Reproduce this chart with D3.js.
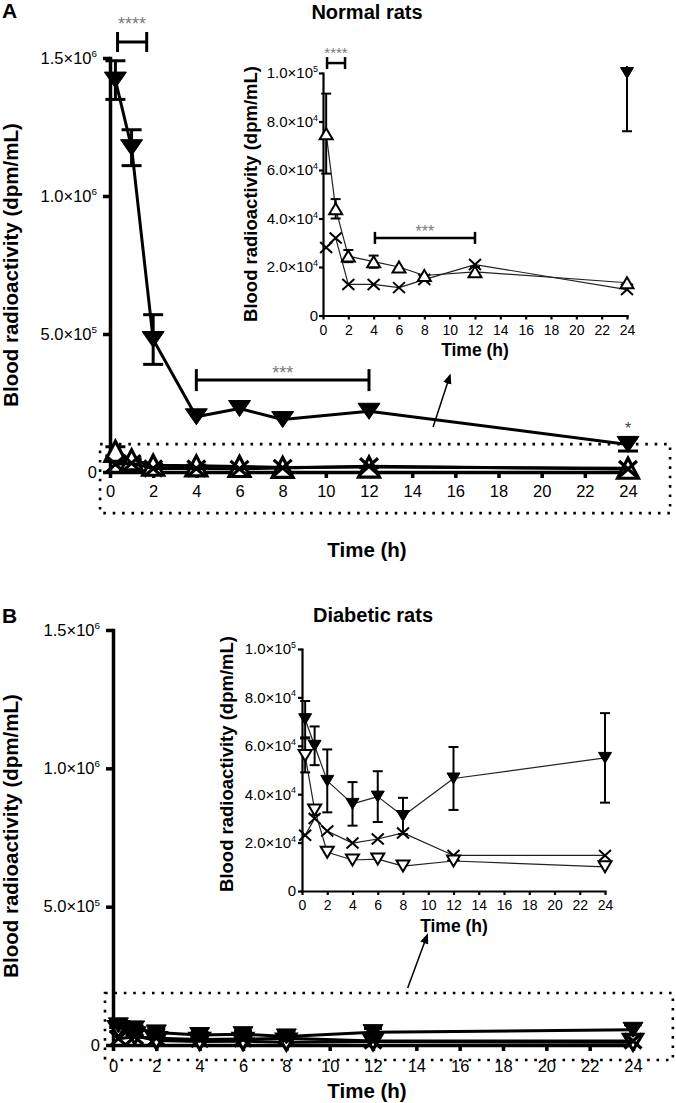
<!DOCTYPE html>
<html><head><meta charset="utf-8">
<script src="https://cdn.jsdelivr.net/npm/d3@7/dist/d3.min.js"></script>
<style>
body{margin:0;background:#fff}
svg{display:block}
</style>
</head><body>
<svg id="c" width="676" height="1103"></svg>
<script>
// ---------------- DATA ----------------
const times = [0.25, 1, 2, 4, 6, 8, 12, 24];
const xTickValues = [0, 2, 4, 6, 8, 10, 12, 14, 16, 18, 20, 22, 24];
const yTicksMain = [0, 5e5, 1e6, 1.5e6];
const yTicksInset = [0, 2e4, 4e4, 6e4, 8e4, 1e5];

// Normal rats (dpm/mL)
const normalFilledMean = [1.42e6, 1.175e6, 4.8e5, 2.0e5, 2.3e5, 1.9e5, 2.2e5, 1.0e5];
const normalFilledErr  = [7e4, 6.5e4, 9e4, 0, 0, 0, 0, 2.4e4];
const normalOpenMean   = [7.5e4, 4.4e4, 2.45e4, 2.22e4, 2.0e4, 1.65e4, 1.8e4, 1.35e4];
const normalOpenErr    = [1.65e4, 0.4e4, 0.25e4, 0.25e4, 0, 0, 0.2e4, 0];
const normalCrossMean  = [2.8e4, 3.2e4, 1.28e4, 1.28e4, 1.15e4, 1.48e4, 2.1e4, 1.07e4];
const normalCrossErr   = [0, 0, 0, 0, 0, 0, 0, 0];

// Diabetic rats (dpm/mL)
const diabFilledMean = [7.1e4, 6.0e4, 4.55e4, 3.6e4, 3.9e4, 3.1e4, 4.65e4, 5.5e4];
const diabFilledErr  = [0.75e4, 0.8e4, 1.3e4, 0.9e4, 1.05e4, 0.75e4, 1.3e4, 1.85e4];
const diabOpenMean   = [5.6e4, 3.35e4, 1.6e4, 1.28e4, 1.32e4, 1.03e4, 1.24e4, 1.0e4];
const diabOpenErr    = [0.7e4, 0.2e4, 0, 0, 0, 0, 0, 0];
const diabCrossMean  = [2.3e4, 3.0e4, 2.48e4, 1.98e4, 2.15e4, 2.4e4, 1.47e4, 1.47e4];
const diabCrossErr   = [0, 0, 0, 0, 0, 0, 0, 0];

const titleA = "Normal rats";
const titleB = "Diabetic rats";
const yTitle = "Blood radioactivity (dpm/mL)";
const xTitle = "Time (h)";

// ---------------- DRAWING ----------------
const FONT = '"Liberation Sans", Arial, Helvetica, sans-serif';
const svg = d3.select('#c').attr('font-family', FONT);

function pts(mean, err) { return times.map((t, i) => ({t, v: mean[i], e: err[i]})); }

function sciLabel(sel, d, fs) {
  sel.text(null);
  if (d === 0) { sel.append('tspan').text('0'); return; }
  const exp = Math.floor(Math.log10(d) + 1e-9);
  const mant = d / Math.pow(10, exp);
  sel.append('tspan').text(mant.toFixed(1) + '\u00d710');
  sel.append('tspan').attr('dy', -fs * 0.42).attr('font-size', fs * 0.6).text(exp);
}

function markerPath(type, w, h) {
  if (type === 'down' || type === 'downOpen')
    return `M${-w/2},${-h/2}L${w/2},${-h/2}L0,${h/2}Z`;
  if (type === 'up')
    return `M${-w/2},${h/2}L${w/2},${h/2}L0,${-h/2}Z`;
  if (type === 'cross')
    return `M${-w/2},${-h/2}L${w/2},${h/2}M${-w/2},${h/2}L${w/2},${-h/2}`;
}

function panel(cfg) {
  const x = d3.scaleLinear().domain([0, 24]).range(cfg.xr);
  const y = d3.scaleLinear().domain([0, cfg.ymax]).range(cfg.yr);
  const g = svg.append('g');

  // axes
  const ya = g.append('g').attr('transform', `translate(${cfg.xr[0]},0)`)
    .call(d3.axisLeft(y).tickValues(cfg.yticks).tickSize(cfg.yTick).tickPadding(cfg.yPad).tickSizeOuter(0));
  const xa = g.append('g').attr('transform', `translate(0,${cfg.yr[0]})`)
    .call(d3.axisBottom(x).tickValues(xTickValues).tickSize(cfg.xTick).tickPadding(cfg.xPad).tickSizeOuter(0));
  [ya, xa].forEach(a => {
    a.attr('font-family', FONT);
    a.select('.domain').attr('stroke', '#000').attr('stroke-width', cfg.axisW).attr('stroke-linecap', 'square');
    a.selectAll('.tick line').attr('stroke', '#000').attr('stroke-width', cfg.axisW);
    a.selectAll('.tick text').attr('fill', '#000');
  });
  ya.attr('font-size', cfg.yfs);
  ya.selectAll('.tick text').each(function(d) { sciLabel(d3.select(this), d, cfg.yfs); });
  xa.attr('font-size', cfg.xfs);

  // axis titles
  g.append('text').attr('transform', `translate(${cfg.ytX},${cfg.ytY}) rotate(-90)`)
    .attr('text-anchor', 'middle').attr('font-weight', 'bold').attr('font-size', cfg.ytfs).text(yTitle);
  g.append('text').attr('x', cfg.xtX).attr('y', cfg.xtY)
    .attr('text-anchor', 'middle').attr('font-weight', 'bold').attr('font-size', cfg.xtfs).text(xTitle);

  // series
  const lineGen = d3.line().x(d => x(d.t)).y(d => y(d.v));
  const plot = g.append('g');
  if (cfg.clipId) {
    svg.append('clipPath').attr('id', cfg.clipId).append('rect')
      .attr('x', cfg.xr[0] - 20).attr('y', cfg.yr[1] - 7)
      .attr('width', cfg.xr[1] - cfg.xr[0] + 40).attr('height', cfg.yr[0] - cfg.yr[1] + 27);
  }
  cfg.series.forEach(s => {
    let data = pts(s.mean, s.err);
    if (s.onlyInRange) data = data.filter(d => d.v <= cfg.ymax);
    const sg = plot.append('g');
    if (s.onlyInRange && cfg.clipId) sg.attr('clip-path', `url(#${cfg.clipId})`);
    if (!s.noLine) {
      sg.append('path').datum(data).attr('d', lineGen).attr('fill', 'none')
        .attr('stroke', cfg.lineColor).attr('stroke-width', cfg.lineW).attr('stroke-linejoin', 'round');
    }
    const eb = sg.selectAll('g.eb').data(data.filter(d => d.e > 0)).join('g')
      .attr('stroke', '#000').attr('stroke-width', cfg.errW);
    eb.append('line').attr('x1', d => x(d.t)).attr('x2', d => x(d.t))
      .attr('y1', d => y(d.v + d.e)).attr('y2', d => y(d.v - d.e));
    eb.append('line').attr('x1', d => x(d.t) - cfg.capHalf).attr('x2', d => x(d.t) + cfg.capHalf)
      .attr('y1', d => y(d.v + d.e)).attr('y2', d => y(d.v + d.e));
    eb.append('line').attr('x1', d => x(d.t) - cfg.capHalf).attr('x2', d => x(d.t) + cfg.capHalf)
      .attr('y1', d => y(d.v - d.e)).attr('y2', d => y(d.v - d.e));
    const m = cfg.markers[s.marker];
    sg.selectAll('path.mk').data(data).join('path').attr('class', 'mk')
      .attr('transform', d => `translate(${x(d.t)},${y(d.v)})`)
      .attr('d', markerPath(s.marker, m.w, m.h))
      .attr('fill', s.marker === 'down' ? '#000' : (s.marker === 'cross' ? 'none' : '#fff'))
      .attr('stroke', '#000').attr('stroke-width', m.sw).attr('stroke-linejoin', 'miter');
  });

  // brackets
  (cfg.brackets || []).forEach(b => {
    const bg = g.append('g').attr('stroke', '#000').attr('stroke-width', cfg.brW);
    const x1 = x(b.t0), x2 = x(b.t1), yy = y(b.v);
    bg.append('line').attr('x1', x1).attr('x2', x2).attr('y1', yy).attr('y2', yy);
    bg.append('line').attr('x1', x1).attr('x2', x1).attr('y1', yy - b.cap).attr('y2', yy + b.cap);
    bg.append('line').attr('x1', x2).attr('x2', x2).attr('y1', yy - b.cap).attr('y2', yy + b.cap);
    g.append('text').attr('x', (x1 + x2) / 2).attr('y', yy - b.textOff).attr('text-anchor', 'middle')
      .attr('font-size', b.fs).attr('fill', '#7a7a7a').text(b.label);
  });
  (cfg.stars || []).forEach(s => {
    g.append('text').attr('x', x(s.t)).attr('y', y(s.v)).attr('text-anchor', 'middle')
      .attr('font-size', s.fs).attr('fill', '#444').text(s.label);
  });

  // dotted zoom box and arrow
  if (cfg.box) {
    const b = cfg.box;
    g.append('rect').attr('x', x(b.t0)).attr('y', y(b.v1))
      .attr('width', x(b.t1) - x(b.t0)).attr('height', y(b.v0) - y(b.v1))
      .attr('fill', 'none').attr('stroke', '#000').attr('stroke-width', 2.6)
      .attr('stroke-dasharray', '2.6 6.8');
  }
  if (cfg.arrow) {
    const a = cfg.arrow;
    g.append('line').attr('x1', x(a.t0)).attr('y1', y(a.v0)).attr('x2', x(a.t1)).attr('y2', y(a.v1))
      .attr('stroke', '#000').attr('stroke-width', 1.5).attr('marker-end', 'url(#arrowHead)');
  }
  return {x, y};
}

svg.append('defs').append('marker').attr('id', 'arrowHead')
  .attr('viewBox', '0 0 10 10').attr('refX', 8).attr('refY', 5)
  .attr('markerWidth', 7).attr('markerHeight', 7).attr('orient', 'auto')
  .append('path').attr('d', 'M0,1L10,5L0,9Z').attr('fill', '#000');

const mainMarkers = {
  down: {w: 22, h: 16, sw: 1},
  up: {w: 21, h: 20, sw: 3.2},
  downOpen: {w: 20, h: 17, sw: 3},
  cross: {w: 18, h: 16, sw: 3.2}
};
const mainMarkersB = {
  down: {w: 20, h: 15, sw: 1},
  up: {w: 19, h: 17, sw: 3},
  downOpen: {w: 19, h: 16, sw: 3.2},
  cross: {w: 17, h: 15, sw: 3.2}
};
const insetMarkers = {
  down: {w: 13, h: 11, sw: 1},
  up: {w: 13, h: 11, sw: 2},
  downOpen: {w: 13, h: 11, sw: 2},
  cross: {w: 12, h: 11, sw: 2}
};

// Panel A main
panel({
  xr: [110, 628], yr: [472, 58], ymax: 1.5e6, yticks: yTicksMain,
  yTick: 7, yPad: 6, xTick: 6, xPad: 7, axisW: 3.5, yfs: 16.5, xfs: 16.5,
  ytX: 18, ytY: 265, ytfs: 20.5, xtX: 367, xtY: 557, xtfs: 20.5,
  lineW: 3, lineColor: '#000', errW: 3, capHalf: 10, markers: mainMarkers,
  series: [
    {mean: normalOpenMean, err: normalOpenErr, marker: 'up'},
    {mean: normalCrossMean, err: normalCrossErr, marker: 'cross'},
    {mean: normalFilledMean, err: normalFilledErr, marker: 'down'}
  ],
  brW: 3,
  brackets: [
    {t0: 0.35, t1: 1.7, v: 1.558e6, cap: 10, label: '****', fs: 18, textOff: 12},
    {t0: 4, t1: 12, v: 3.33e5, cap: 11, label: '***', fs: 18, textOff: 1}
  ],
  stars: [{t: 24, v: 1.36e5, label: '*', fs: 16}],
  box: {t0: -0.46, t1: 25.95, v0: -1.49e5, v1: 1.01e5},
  arrow: {t0: 14.97, v0: 1.63e5, t1: 15.75, v1: 3.5e5}
});

// Panel A inset
panel({
  xr: [323, 627], yr: [315.5, 73], ymax: 1e5, yticks: yTicksInset,
  yTick: 4, yPad: 1, xTick: 4, xPad: 5.5, axisW: 2.2, yfs: 15, xfs: 14,
  ytX: 257, ytY: 194, ytfs: 18.5, xtX: 475, xtY: 356, xtfs: 17.5,
  lineW: 1.2, lineColor: '#222', errW: 2, capHalf: 5, markers: insetMarkers,
  clipId: 'clipA',
  series: [
    {mean: normalCrossMean, err: normalCrossErr, marker: 'cross'},
    {mean: normalOpenMean, err: normalOpenErr, marker: 'up'},
    {mean: normalFilledMean, err: normalFilledErr, marker: 'down', onlyInRange: true, noLine: true}
  ],
  brW: 2.5,
  brackets: [
    {t0: 0.32, t1: 1.74, v: 1.041e5, cap: 6, label: '****', fs: 15, textOff: 5},
    {t0: 4.1, t1: 12, v: 3.2e4, cap: 6, label: '***', fs: 16, textOff: 1}
  ]
});

// Panel B main
panel({
  xr: [113, 633], yr: [1045, 630], ymax: 1.5e6, yticks: yTicksMain,
  yTick: 7, yPad: 6, xTick: 6, xPad: 9, axisW: 3.5, yfs: 16.5, xfs: 16.5,
  ytX: 18, ytY: 836, ytfs: 20.5, xtX: 367, xtY: 1098, xtfs: 20.5,
  lineW: 3, lineColor: '#000', errW: 3, capHalf: 9, markers: mainMarkersB,
  series: [
    {mean: diabOpenMean, err: diabOpenErr, marker: 'downOpen'},
    {mean: diabCrossMean, err: diabCrossErr, marker: 'cross'},
    {mean: diabFilledMean, err: diabFilledErr, marker: 'down'}
  ],
  box: {t0: -0.37, t1: 25.84, v0: -0.54e5, v1: 1.88e5},
  arrow: {t0: 13.6, v0: 2.06e5, t1: 14.5, v1: 3.97e5}
});

// Panel B inset
panel({
  xr: [302, 605], yr: [891, 649], ymax: 1e5, yticks: yTicksInset,
  yTick: 4, yPad: 2, xTick: 4, xPad: 5, axisW: 2.2, yfs: 15, xfs: 14,
  ytX: 233, ytY: 764, ytfs: 18.5, xtX: 454, xtY: 932, xtfs: 17.5,
  lineW: 1.2, lineColor: '#222', errW: 2, capHalf: 5, markers: insetMarkers,
  series: [
    {mean: diabCrossMean, err: diabCrossErr, marker: 'cross'},
    {mean: diabOpenMean, err: diabOpenErr, marker: 'downOpen'},
    {mean: diabFilledMean, err: diabFilledErr, marker: 'down'}
  ]
});

// Titles and panel letters
svg.append('text').attr('x', 2).attr('y', 18).attr('font-size', 21).attr('font-weight', 'bold').text('A');
svg.append('text').attr('x', 2).attr('y', 623).attr('font-size', 21).attr('font-weight', 'bold').text('B');
svg.append('text').attr('x', 367).attr('y', 18.5).attr('text-anchor', 'middle').attr('font-size', 20).attr('font-weight', 'bold').text(titleA);
svg.append('text').attr('x', 373).attr('y', 622).attr('text-anchor', 'middle').attr('font-size', 20).attr('font-weight', 'bold').text(titleB);
</script>
</body></html>
